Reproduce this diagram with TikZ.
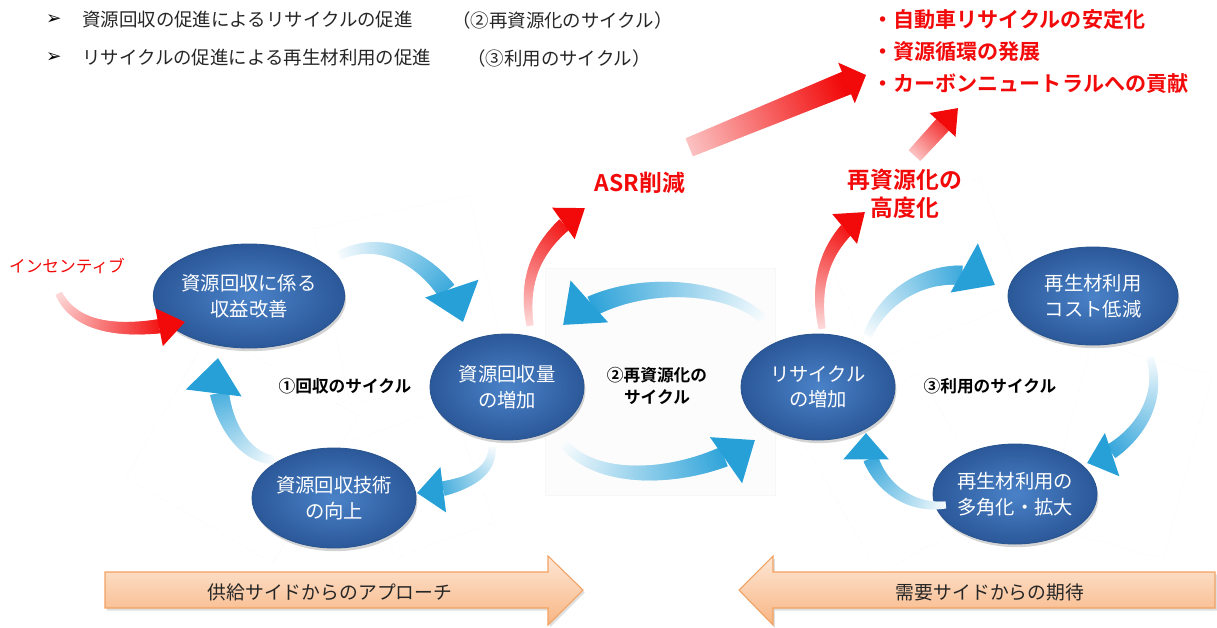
\documentclass[tikz,border=0pt]{standalone}
\usepackage{fontspec}
\setmainfont{Noto Sans CJK JP}[BoldFont={Noto Sans CJK JP Bold}]
\newfontfamily\dejavu{DejaVu Sans}
\usetikzlibrary{shapes.geometric}
\usetikzlibrary{decorations.markings}
\usetikzlibrary{shadows}
\usetikzlibrary{calc}
\definecolor{cycblue}{HTML}{27A0D8}
\definecolor{hotred}{HTML}{F20A0A}
\definecolor{ballin}{HTML}{4A82C8}
\definecolor{ballout}{HTML}{2B5899}
\definecolor{ballrim}{HTML}{2A5590}
\definecolor{peachtop}{HTML}{FDE7D5}
\definecolor{peachbot}{HTML}{F8B583}
\definecolor{peachrim}{HTML}{F2A262}
% fat arrow: colour, tail width, end width, head half width, head length, tail tint
\tikzset{
  fat/.style n args={6}{
    postaction={decorate},
    decoration={markings,
      mark=between positions 0 and -#5 step 0.6pt with {
        \pgfmathsetmacro\fpos{\pgfkeysvalueof{/pgf/decoration/mark info/distance from start}/\pgfdecoratedpathlength}
        \pgfmathsetmacro\fpc{min(100,#6+(100-#6)*1.15*\fpos)}
        \pgfmathsetmacro\fsw{(#2+(#3-#2)*\fpos)/2}
        \fill[#1!\fpc!white] (-0.5pt,-\fsw pt) rectangle (0.5pt,\fsw pt);
      },
      mark=at position 1 with {\fill[#1] (0pt,0pt) -- (-#5,#4) -- (-#5,-#4) -- cycle;}
    }
  }
}

\begin{document}
\begin{tikzpicture}[x=0.2mm,y=-0.2mm,
    ball/.style={ellipse,draw=ballrim,line width=0.5pt,inner color=ballin,outer color=ballout,
      text=white,align=center,inner sep=0pt,font=\fontsize{11}{14.5}\selectfont,
      drop shadow={opacity=0.35,shadow xshift=0.8pt,shadow yshift=-1.8pt}},
    hdr/.style={anchor=west,text=black!85,font=\fontsize{10.5}{12}\selectfont},
    goal/.style={anchor=west,text=hotred,font=\bfseries\fontsize{12}{14}\selectfont},
    cyclbl/.style={align=center,font=\bfseries\fontsize{9.5}{13}\selectfont},
    redlbl/.style={text=hotred,align=center,font=\bfseries\fontsize{13}{16}\selectfont},
    panel/.style={draw=black!6,densely dotted,line width=0.3pt},
    tanarrow/.style={top color=peachtop,bottom color=peachbot,draw=peachrim,line width=0.6pt,
      drop shadow={opacity=0.25,shadow xshift=1pt,shadow yshift=-1.5pt}},
    bluearr/.style={fat={cycblue}{5}{13}{16pt}{20pt}{4}},
    bluesm/.style={fat={cycblue}{4}{10}{13pt}{15pt}{4}},
    redarr/.style={fat={hotred}{4}{9}{11pt}{15pt}{15}},
    redbig/.style={fat={hotred}{11}{14}{12.5pt}{12pt}{25}},
    redsm/.style={fat={hotred}{9}{10}{10pt}{13pt}{25}}]
  \useasboundingbox (0,0) rectangle (1217,627);
  % faint panels
  \draw[panel,rotate around={12:(410,300)}] (330,210) rectangle (490,390);
  \draw[panel,rotate around={-30:(240,440)}] (160,360) rectangle (330,530);
  \draw[panel,rotate around={20:(420,480)}] (370,420) rectangle (475,545);
  \filldraw[fill=black!1,draw=black!3] (545,268) rectangle (775,495);
  \draw[panel,rotate around={22:(925,270)}] (840,205) rectangle (1010,335);
  \draw[panel,rotate around={-15:(1125,450)}] (1065,355) rectangle (1190,545);
  \draw[panel,rotate around={30:(900,470)}] (830,395) rectangle (965,550);
  % header
  \node[hdr,text=black,font=\dejavu\fontsize{10.5}{12}\selectfont] (b1) at (40,20) {➢};
  \node[hdr] (h1) at (76,20) {資源回収の促進によるリサイクルの促進};
  \node[hdr] (h1p) at (446,20) {（②再資源化のサイクル）};
  \node[hdr,text=black,font=\dejavu\fontsize{10.5}{12}\selectfont] (b2) at (40,58) {➢};
  \node[hdr] (h2) at (76,58) {リサイクルの促進による再生材利用の促進};
  \node[hdr] (h2p) at (461,58) {（③利用のサイクル）};
  % goals
  \node[goal] (g1) at (866,20) {・自動車リサイクルの安定化};
  \node[goal] (g2) at (866,52) {・資源循環の発展};
  \node[goal] (g3) at (866,84) {・カーボンニュートラルへの貢献};
  % cycle nodes
  \node[ball,minimum width=29.6mm,minimum height=20.8mm] (A) at (249,296) {資源回収に係る\\収益改善};
  \node[ball,minimum width=30.8mm,minimum height=21.2mm] (B) at (507,387) {資源回収量\\の増加};
  \node[ball,minimum width=30.4mm,minimum height=20mm] (C) at (334,498) {資源回収技術\\の向上};
  \node[ball,minimum width=30.8mm,minimum height=21.2mm] (D) at (818,387) {リサイクル\\の増加};
  \node[ball,minimum width=34mm,minimum height=19.6mm] (E) at (1093,296) {再生材利用\\コスト低減};
  \node[ball,minimum width=28.4mm,minimum height=20mm] (F) at (1015,494) {再生材利用の\\多角化・拡大};
  % labels
  \node[cyclbl] (c1) at (345,386) {①回収のサイクル};
  \node[cyclbl] (c2) at (657,386) {②再資源化の\\サイクル};
  \node[cyclbl] (c3) at (990,386) {③利用のサイクル};
  \node[text=hotred,font=\fontsize{9.5}{11}\selectfont] (inc) at (67,266) {インセンティブ};
  \node[redlbl] (asr) at (640,183) {ASR削減};
  \node[redlbl] (hi) at (905,194) {再資源化の\\高度化};
  \coordinate (gain) at (690,147);
  % cycle arrows
  \path[bluearr] ($(A)+(91,-41)$) .. controls +(55,-25) and +(-15,-45) .. ($(B)+(-44,-65)$);
  \path[bluesm] ($(B)+(-15,61)$) .. controls +(0,30) and +(40,-5) .. ($(C)+(83,-5)$);
  \path[bluearr] ($(C)+(-61,-38)$) .. controls +(-40,-5) and +(-5,40) .. ($(A)+(-31,62)$);
  \path[bluearr] ($(D)+(-56,-69)$) .. controls +(-45,-40) and +(50,-45) .. ($(B)+(56,-62)$);
  \path[bluearr] ($(B)+(58,58)$) .. controls +(40,45) and +(-50,35) .. ($(D)+(-63,53)$);
  \path[bluearr] ($(D)+(50,-52)$) .. controls +(20,-50) and +(-45,-25) .. ($(E)+(-98,-11)$);
  \path[bluesm] ($(E)+(57,62)$) .. controls +(15,45) and +(45,-15) .. ($(F)+(72,-31)$);
  \path[bluesm] ($(F)+(-70,11)$) .. controls +(-45,5) and +(0,40) .. ($(D)+(48,46)$);
  % red arrows
  \path[redarr] ($(inc.south)+(-8,14)$) .. controls +(20,40) and +(-50,10) .. ($(A)+(-64,26)$);
  \path[redarr] ($(B)+(23,-62)$) .. controls +(-10,-60) and +(-35,25) .. ($(asr)+(-55,25)$);
  \path[redarr] ($(D)+(4,-59)$) .. controls +(-10,-60) and +(-30,25) .. ($(hi)+(-40,18)$);
  \path[redbig] (gain) -- ($(g3.west)+(0,-9)$);
  \path[redsm] ($(hi)+(10,-39)$) -- ($(hi)+(53,-86)$);
  % approach arrows
  \shade[tanarrow] (105,572) -- (548,572) -- (548,556) -- (583,590) -- (548,625)
    -- (548,608) -- (105,608) -- cycle;
  \shade[tanarrow] (1215,572) -- (773,572) -- (773,556) -- (739,590) -- (773,625)
    -- (773,608) -- (1215,608) -- cycle;
  \node[text=black!85,font=\fontsize{10.7}{12}\selectfont] (supply) at (330,592) {供給サイドからのアプローチ};
  \node[text=black!85,font=\fontsize{10.7}{12}\selectfont] (demand) at (990,592) {需要サイドからの期待};
\end{tikzpicture}
\end{document}
